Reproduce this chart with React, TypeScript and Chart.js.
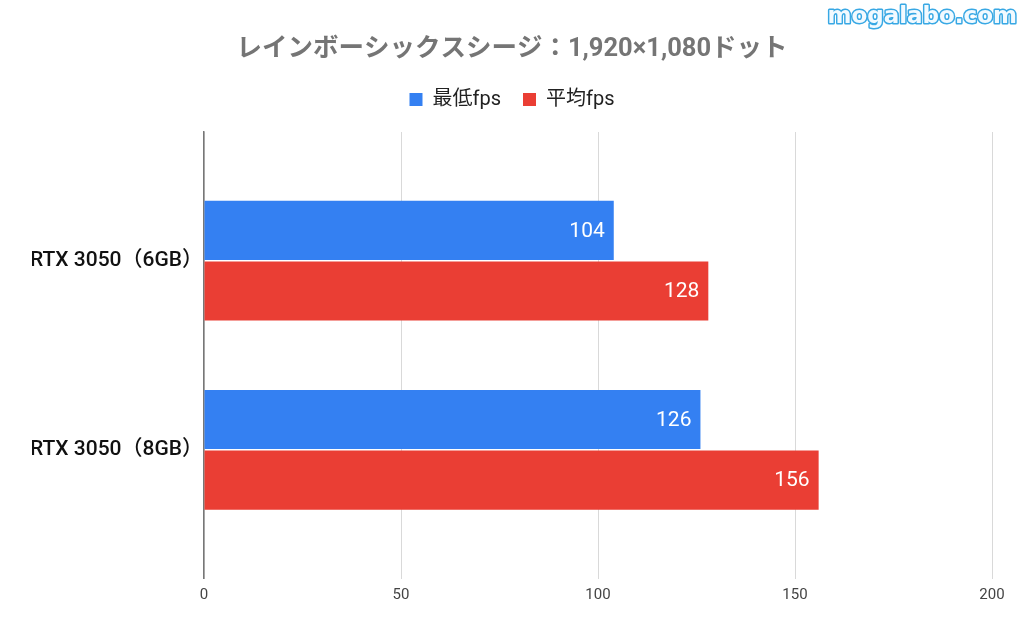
import React, { useEffect, useRef } from "react";
import { Chart, registerables } from "chart.js";

Chart.register(...registerables);

const titleText = "レインボーシックスシージ：1,920×1,080ドット";
const categories = ["RTX 3050（6GB）", "RTX 3050（8GB）"];
const seriesNames = ["最低fps", "平均fps"];
const minFps = [104, 126];
const avgFps = [128, 156];
const xTicks = [0, 50, 100, 150, 200];
const watermark = "mogalabo.com";

const BLUE = "#3480F2";
const RED = "#EA3E34";
const FONT = 'Roboto, "Noto Sans CJK JP"';

const valueLabels = {
  id: "valueLabels",
  afterDatasetsDraw(chart: any) {
    const ctx = chart.ctx;
    ctx.save();
    ctx.font = "21px Roboto";
    ctx.fillStyle = "#ffffff";
    ctx.textAlign = "right";
    ctx.textBaseline = "middle";
    chart.data.datasets.forEach((ds: any, di: number) => {
      const meta = chart.getDatasetMeta(di);
      meta.data.forEach((el: any, i: number) => {
        const v = ds.data[i].x;
        ctx.fillText(String(v), el.x - 9, el.y + 1);
      });
    });
    ctx.restore();
  },
};

const watermarkPlugin = {
  id: "watermark",
  afterDraw(chart: any) {
    const ctx = chart.ctx;
    ctx.save();
    ctx.font = 'bold 23px "DejaVu Sans"';
    ctx.textAlign = "right";
    ctx.textBaseline = "middle";
    ctx.lineJoin = "round";
    ctx.strokeStyle = "#38a8e4";
    ctx.lineWidth = 3;
    ctx.strokeText(watermark, 1017, 17);
    ctx.fillStyle = "#f2faff";
    ctx.fillText(watermark, 1017, 17);
    ctx.restore();
  },
};

const legendSpacer = {
  id: "legendSpacer",
  beforeInit(chart: any) {
    const legend = chart.legend;
    if (!legend) return;
    const orig = legend.fit;
    legend.fit = function () {
      orig.call(legend);
      this.height += 12.5;
    };
  },
};

export default function App() {
  const ref = useRef<HTMLCanvasElement | null>(null);

  useEffect(() => {
    if (!ref.current) return;
    const chart = new Chart(ref.current, {
      type: "bar",
      data: {
        datasets: [
          {
            label: seriesNames[0],
            data: minFps.map((v, i) => ({ x: v, y: i })),
            backgroundColor: BLUE,
            borderWidth: 0,
            categoryPercentage: 0.64,
            barPercentage: 0.975,
          },
          {
            label: seriesNames[1],
            data: avgFps.map((v, i) => ({ x: v, y: i })),
            backgroundColor: RED,
            borderWidth: 0,
            categoryPercentage: 0.64,
            barPercentage: 0.975,
          },
        ],
      },
      options: {
        indexAxis: "y",
        responsive: false,
        animation: false,
        layout: { padding: { top: 0, left: 32, right: 32, bottom: 22.5 } },
        plugins: {
          title: {
            display: true,
            text: titleText,
            color: "#757575",
            font: { family: FONT, size: 25.5, weight: "bold" },
            padding: { top: 34, bottom: 2.9 },
          },
          legend: {
            display: true,
            labels: {
              boxWidth: 13,
              boxHeight: 13,
              padding: 22,
              color: "#222222",
              font: { family: FONT, size: 20 },
            },
          },
          tooltip: { enabled: false },
        },
        scales: {
          x: {
            type: "linear",
            min: xTicks[0],
            max: xTicks[xTicks.length - 1],
            afterBuildTicks: (scale: any) => {
              scale.ticks = xTicks.map((v) => ({ value: v }));
            },
            grid: { color: "#d9d9d9", drawTicks: false, lineWidth: 1 },
            border: { display: false },
            ticks: {
              padding: 7.5,
              color: "#444444",
              font: { family: "Roboto", size: 15 },
            },
          },
          y: {
            type: "linear",
            reverse: true,
            offset: false,
            min: -0.68,
            max: categories.length - 1 + 0.68,
            afterBuildTicks: (scale: any) => {
              scale.ticks = categories.map((_, i) => ({ value: i }));
            },
            afterFit: (scale: any) => {
              scale.width = 172;
            },
            grid: { display: false, drawTicks: false, offset: false },
            border: { display: true, color: "#777777", width: 1.5 },
            ticks: {
              padding: 1,
              color: "#111111",
              font: { family: FONT, size: 21, weight: 500 },
              callback: (v: any) => categories[v as number] ?? "",
            },
          },
        },
      },
      plugins: [valueLabels, watermarkPlugin, legendSpacer],
    } as any);
    return () => chart.destroy();
  }, []);

  return (
    <div style={{ position: "fixed", left: 0, top: 0, width: 1024, height: 634, background: "#fff" }}>
      <canvas ref={ref} width={1024} height={634} />
    </div>
  );
}
